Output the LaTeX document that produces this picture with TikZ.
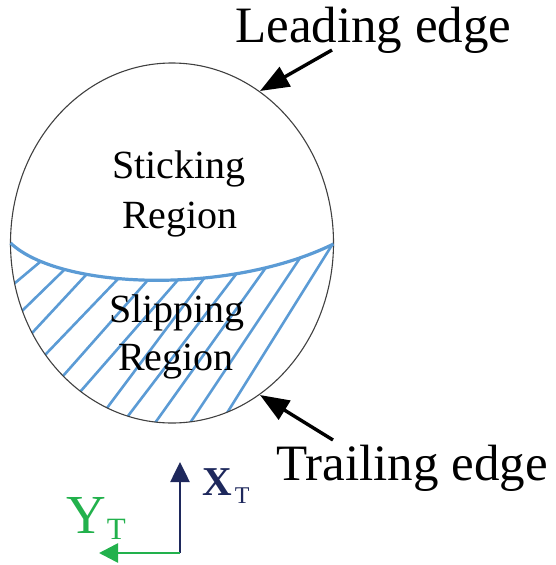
\documentclass[tikz,border=0pt]{standalone}
\usepackage{fontspec}
\setmainfont{Liberation Serif}
\usetikzlibrary{arrows.meta,calc}
\definecolor{hatchblue}{RGB}{91,155,213}
\definecolor{axisnavy}{RGB}{30,40,92}
\definecolor{axisgreen}{RGB}{34,177,76}
\tikzset{
  contour/.style={draw=black!75, line width=1.1pt},
  boundary/.style={draw=hatchblue, line width=3.2pt},
  hatchline/.style={draw=hatchblue, line width=2.6pt},
  callout/.style={draw=black, line width=3.4pt, -{Triangle[length=29pt,width=22pt]}},
  bigtext/.style={font=\fontsize{51}{51}\selectfont, inner sep=0pt, anchor=base west},
  regiontext/.style={font=\fontsize{40}{48}\selectfont, inner sep=0pt, anchor=base},
  xaxis/.style={draw=axisnavy, line width=2.6pt, -{Triangle[length=20pt,width=19pt]}},
  yaxis/.style={draw=axisgreen, line width=2.6pt, -{Triangle[length=19pt,width=19pt]}},
}
\begin{document}
\begin{tikzpicture}[x=1pt,y=-1pt]
\useasboundingbox (0,0) rectangle (555,565);

% slipping region hatching
\begin{scope}
  \clip (172,243) ellipse [x radius=161.5pt, y radius=180pt];
  \clip (10.5,243) .. controls (60,290) and (230,295) .. (333.5,244) -- (345,440) -- (0,440) -- cycle;
  \foreach \bx/\by/\tx/\ty in {15/283/40/262, 23/310/63/271, 33/332/85/276, 45/355/117/280,
      63/376/147/281, 80/392/177/281, 107/408/205/277, 128/416/237/273,
      155/423/267/266, 190/423/302/255, 227/413/332/245}{
    \coordinate (hb) at (\bx,\by);
    \coordinate (ht) at (\tx,\ty);
    \draw[hatchline] ($(hb)!-0.15!(ht)$) -- ($(ht)!-0.15!(hb)$);
  }
\end{scope}

% contact patch outline
\draw[contour] (172,243) ellipse [x radius=161.5pt, y radius=180pt];
% stick/slip boundary
\draw[boundary] (10.5,243) .. controls (60,290) and (230,295) .. (333.5,244);

% region labels
\node[regiontext] (stick1) at (179,178) {Sticking};
\node[regiontext] (stick2) at (180,228) {Region};
\node[regiontext] (slip1) at (177,322) {Slipping};
\node[regiontext] (slip2) at (176,370) {Region};

% edge labels and arrows
\node[bigtext] (lead) at (235,42) {Leading edge};
\node[bigtext] (trail) at (276,480) {Trailing edge};
\coordinate (leadtail) at (332,50);
\coordinate (leadtip) at (260,91);
\coordinate (trailtail) at (333,440);
\coordinate (trailtip) at (260,395);
\draw[callout] (leadtail) -- (leadtip);
\draw[callout] (trailtail) -- (trailtip);

% axes
\coordinate (origin) at (180,553);
\coordinate (xtip) at (180,462);
\coordinate (ytip) at (99,553);
\draw[xaxis] (origin) -- (xtip);
\draw[yaxis] (origin) -- (ytip);
\node[inner sep=0pt, anchor=base west, text=axisnavy] (xlabel) at (202,495)
  {\fontsize{41}{41}\selectfont\textbf{X}\hspace{3pt}\raisebox{-8pt}{\fontsize{24}{24}\selectfont T}};
\node[inner sep=0pt, anchor=base west, text=axisgreen] (ylabel) at (66,533)
  {\fontsize{55}{55}\selectfont Y\hspace{1pt}\raisebox{-6pt}{\fontsize{31}{31}\selectfont T}};
\end{tikzpicture}
\end{document}
